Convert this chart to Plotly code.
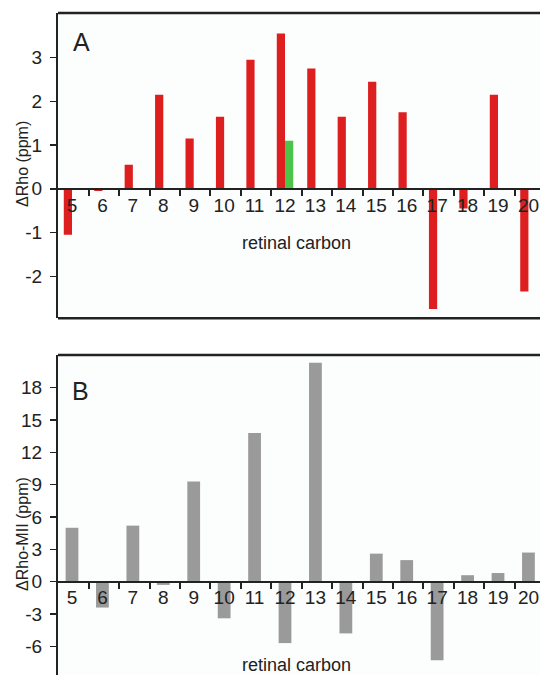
import plotly.graph_objects as go

# ---- data ----
carbons = list(range(5, 21))
tick_labels = [str(c) for c in carbons]
delta_rho = [-1.05, -0.05, 0.55, 2.15, 1.15, 1.65, 2.95, 3.55, 2.75, 1.65, 2.45, 1.75, -2.75, -0.45, 2.15, -2.35]
delta_rho_green = [None] * 7 + [1.1] + [None] * 8
delta_rho_mii = [5.0, -2.4, 5.2, -0.3, 9.3, -3.4, 13.8, -5.7, 20.3, -4.8, 2.6, 2.0, -7.3, 0.6, 0.8, 2.7]
yticks_a = [-2, -1, 0, 1, 2, 3]
yticks_b = [-6, -3, 0, 3, 6, 9, 12, 15, 18]

W, H = 540, 675
ML, MR, MT, MB = 58, 0, 13, 0
PH = H - MT - MB
PW = W - ML - MR

def py(pix):  # window pixel y -> paper fraction
    return (H - MB - pix) / PH

def px(pix):  # window pixel x -> paper fraction
    return (pix - ML) / PW

dom_a = [py(318.3), 1.0]
dom_b = [0.0, py(355)]
rng_a = [-2.96, 4.02]
rng_b = [-8.66, 21.03]
rng_x = [4.54, 20.38]

def zero_pos(dom, rng):
    return dom[0] + (0 - rng[0]) / (rng[1] - rng[0]) * (dom[1] - dom[0])

FONT = "Liberation Sans, Arial, sans-serif"
INK = "#222222"
RED = "#dd1f1f"
GREEN = "#4cc447"
GRAY = "#9a9a9a"

fig = go.Figure()
fig.add_trace(go.Bar(x=carbons, y=delta_rho, marker=dict(color=RED, line=dict(width=0)),
                     xaxis="x", yaxis="y", showlegend=False))
fig.add_trace(go.Bar(x=carbons, y=delta_rho_green, marker=dict(color=GREEN, line=dict(width=0)),
                     xaxis="x", yaxis="y", showlegend=False))
fig.add_trace(go.Bar(x=carbons, y=delta_rho_mii, marker=dict(color=GRAY, line=dict(width=0)),
                     width=0.42, xaxis="x2", yaxis="y2", showlegend=False))

minor_vals = [c + 0.55 for c in carbons]

def xaxis_cfg(dom, rng_y):
    return dict(
        domain=[0, 1], range=rng_x, anchor="free", position=zero_pos(dom, rng_y),
        automargin=False,
        tickmode="array", tickvals=carbons, ticktext=tick_labels,
        ticks="outside", ticklen=0, tickcolor="rgba(0,0,0,0)",
        ticklabelstandoff=-1,
        tickfont=dict(family=FONT, size=19, color=INK),
        showline=True, linecolor=INK, linewidth=2,
        showgrid=False, zeroline=False,
        minor=dict(tickmode="array", tickvals=minor_vals, ticks="outside",
                   ticklen=6, tickwidth=2, tickcolor=INK, showgrid=False),
        fixedrange=True,
    )

def yaxis_cfg(dom, rng, ticks, anchor):
    return dict(
        domain=dom, range=rng, anchor=anchor, automargin=False,
        tickmode="array", tickvals=ticks, ticktext=[str(t) for t in ticks],
        ticks="outside", ticklen=6, tickwidth=1.5, tickcolor=INK,
        ticklabelstandoff=4,
        tickfont=dict(family=FONT, size=19, color=INK),
        showline=True, linecolor=INK, linewidth=2,
        showgrid=False, zeroline=False, fixedrange=True,
    )

fig.update_layout(
    width=W, height=H,
    margin=dict(l=ML, r=MR, t=MT, b=MB),
    paper_bgcolor="white", plot_bgcolor="#fcfdfd",
    barmode="group", bargap=0.46, bargroupgap=0,
    xaxis=xaxis_cfg(dom_a, rng_a), yaxis=yaxis_cfg(dom_a, rng_a, yticks_a, "x"),
    xaxis2=xaxis_cfg(dom_b, rng_b), yaxis2=yaxis_cfg(dom_b, rng_b, yticks_b, "x2"),
    font=dict(family=FONT, color=INK),
    hovermode=False,
)

# frame lines (top of both panels, bottom of panel A)
for xref, yref, yv in [("x domain", "y domain", 1), ("x domain", "y domain", 0), ("x2 domain", "y2 domain", 1)]:
    fig.add_shape(type="line", xref=xref, yref=yref, x0=0, x1=1.01, y0=yv, y1=yv,
                  line=dict(color=INK, width=2.5), layer="above")

def ann(text, xpix, ypix, size, angle=0):
    fig.add_annotation(text=text, xref="paper", yref="paper",
                       x=px(xpix), y=py(ypix),
                       xanchor="center", yanchor="middle", showarrow=False,
                       textangle=angle, font=dict(family=FONT, size=size, color=INK))

ann("retinal carbon", 296, 243, 18)
ann("retinal carbon", 296, 665, 18)
ann("ΔRho (ppm)", 22, 164, 16, -90)
ann("ΔRho-MII (ppm)", 22, 534, 16, -90)
ann("A", 81, 42, 25)
ann("B", 80, 391, 25)

# remove the default page margin so the 540x675 figure fills the window exactly
fig.write_html(
    "out.html",
    config={"displayModeBar": False, "staticPlot": True},
    post_script="document.body.style.margin='0';document.body.style.overflow='hidden';",
)
